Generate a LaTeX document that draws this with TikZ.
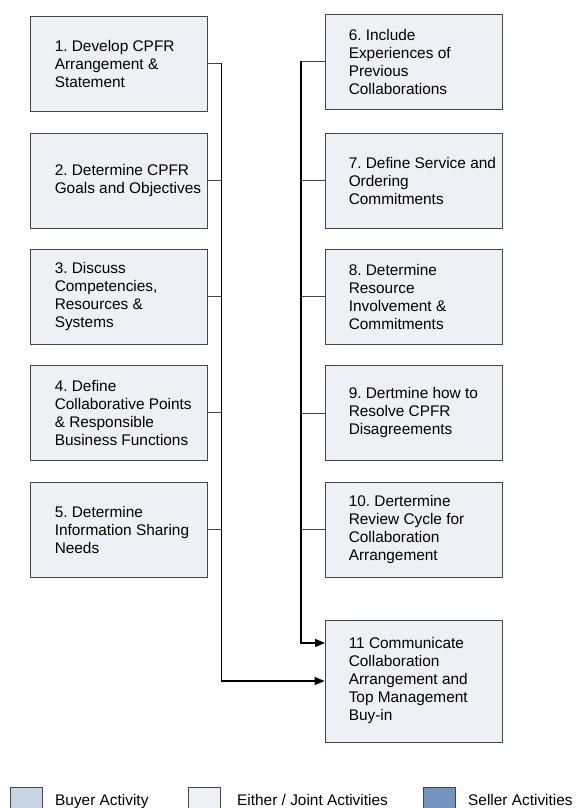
\documentclass[tikz,border=0pt]{standalone}
\usepackage{fontspec}
\setmainfont{Liberation Sans}
\usetikzlibrary{arrows.meta}
\frenchspacing
\definecolor{jointc}{RGB}{237,240,245}
\definecolor{buyerc}{RGB}{200,213,228}
\definecolor{sellerc}{RGB}{115,148,190}
\definecolor{edgec}{RGB}{70,70,70}
\tikzset{
  box/.style={draw=edgec, line width=0.9pt, fill=jointc, minimum width=177pt, minimum height=95pt, inner sep=0pt},
  txt/.style={anchor=west, align=left, inner sep=0pt, font=\fontsize{15.4}{18}\selectfont},
  branch/.style={draw=edgec, line width=0.9pt},
  spine/.style={draw=black, line width=1.3pt},
  arr/.style={spine, -{Triangle[length=10pt,width=8pt]}},
  legbox/.style={draw=edgec, line width=0.9pt, minimum width=32pt, minimum height=32pt, inner sep=0pt, anchor=north west},
  legtxt/.style={anchor=base west, inner sep=0pt, font=\fontsize{15.4}{18}\selectfont}
}
\begin{document}
\begin{tikzpicture}[x=1pt,y=-1pt]
\useasboundingbox (0,0) rectangle (581,808);
% left column
\node[box] (b1) at (118.5,63.5) {};
\node[box] (b2) at (118.5,180.5) {};
\node[box] (b3) at (118.5,296.5) {};
\node[box] (b4) at (118.5,412.5) {};
\node[box] (b5) at (118.5,529.5) {};
% right column
\node[box] (b6) at (413.5,61.5) {};
\node[box] (b7) at (413.5,180.5) {};
\node[box] (b8) at (413.5,296.5) {};
\node[box] (b9) at (413.5,413) {};
\node[box] (b10) at (413.5,529.5) {};
\node[box, minimum height=122pt] (b11) at (413.5,681) {};
% texts
\node[txt] (t1) at ([xshift=25pt]b1.west) {1. Develop CPFR\\Arrangement \&\\Statement};
\node[txt] (t2) at ([xshift=25pt]b2.west) {2. Determine CPFR\\Goals and Objectives};
\node[txt] (t3) at ([xshift=25pt]b3.west) {3. Discuss\\Competencies,\\Resources \&\\Systems};
\node[txt] (t4) at ([xshift=25pt]b4.west) {4. Define\\Collaborative Points\\\& Responsible\\Business Functions};
\node[txt] (t5) at ([xshift=25pt]b5.west) {5. Determine\\Information Sharing\\Needs};
\node[txt] (t6) at ([xshift=24pt]b6.west) {6. Include\\Experiences of\\Previous\\Collaborations};
\node[txt] (t7) at ([xshift=24pt]b7.west) {7. Define Service and\\Ordering\\Commitments};
\node[txt] (t8) at ([xshift=24pt]b8.west) {8. Determine\\Resource\\Involvement \&\\Commitments};
\node[txt] (t9) at ([xshift=24pt]b9.west) {9. Dertmine how to\\Resolve CPFR\\Disagreements};
\node[txt] (t10) at ([xshift=24pt]b10.west) {10. Dertermine\\Review Cycle for\\Collaboration\\Arrangement};
\node[txt] (t11) at ([xshift=24pt]b11.west) {11 Communicate\\Collaboration\\Arrangement and\\Top Management\\Buy-in};
% spine coordinates
\coordinate (ls1) at (221.5,63.5);
\coordinate (ls5) at (221.5,529.5);
\coordinate (lend) at (221.5,681);
\coordinate (rs6) at (301,61.5);
\coordinate (rend) at (301,643);
\coordinate (in1) at (325,643);
% branches
\draw[branch] (b1.east) -- (ls1);
\draw[branch] (b2.east) -- (b2.east -| ls1);
\draw[branch] (b3.east) -- (b3.east -| ls1);
\draw[branch] (b4.east) -- (b4.east -| ls1);
\draw[branch] (b5.east) -- (ls5);
\draw[branch] (b6.west) -- (rs6);
\draw[branch] (b7.west) -- (b7.west -| rs6);
\draw[branch] (b8.west) -- (b8.west -| rs6);
\draw[branch] (b9.west) -- (b9.west -| rs6);
\draw[branch] (b10.west) -- (b10.west -| rs6);
% spines with arrows
\draw[arr] (ls1) -- (lend) -- (b11.west);
\draw[arr] (rs6) -- (rend) -- (in1);
% legend
\node[legbox, fill=buyerc] (lg1) at (10,787) {};
\node[legtxt] (lt1) at (55,805) {Buyer Activity};
\node[legbox, fill=jointc] (lg2) at (187.5,787) {};
\node[legtxt] (lt2) at (237,805) {Either / Joint Activities};
\node[legbox, fill=sellerc] (lg3) at (423,787) {};
\node[legtxt] (lt3) at (468,805) {Seller Activities};
\end{tikzpicture}
\end{document}
